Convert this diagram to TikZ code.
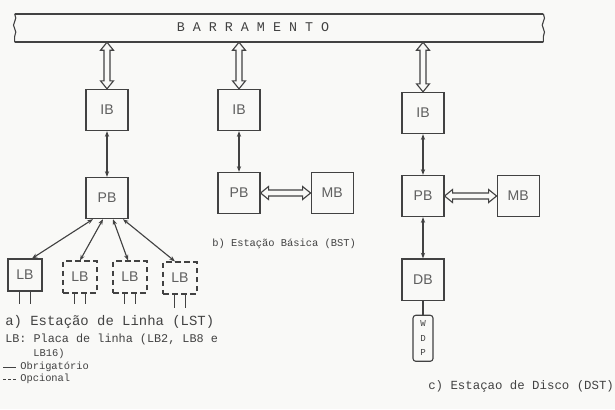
\documentclass[tikz,border=0pt]{standalone}
\usepackage{fontspec}
\usepackage{tikz}
\usetikzlibrary{positioning, arrows.meta, calc, decorations.pathmorphing}
\newfontfamily\tyfont{Liberation Mono}
\newfontfamily\bdfont{Liberation Sans}
\definecolor{ink}{rgb}{0.26, 0.26, 0.26}
\definecolor{paper}{rgb}{0.975, 0.975, 0.97}

% hollow double arrows (vertical: top -> bottom, horizontal: left -> right)
\newcommand{\vdbl}[2]{\draw[hollow] (#1) -- ++(6.5,8) -- ++(-3.5,0) -- ($(#2)+(3,-8)$) -- ++(3.5,0) -- (#2) -- ++(-6.5,-8) -- ++(3.5,0) -- ($(#1)+(-3,8)$) -- ++(-3.5,0) -- cycle;}
\newcommand{\hdbl}[2]{\draw[hollow] (#1) -- ++(8,-6.5) -- ++(0,3.5) -- ($(#2)+(-8,-3)$) -- ++(0,-3.5) -- (#2) -- ++(-8,6.5) -- ++(0,-3.5) -- ($(#1)+(8,3)$) -- ++(0,3.5) -- cycle;}

\begin{document}
\begin{tikzpicture}[
  x=0.025cm, y=-0.025cm,
  box/.style={draw=ink, line width=0.8pt, minimum width=1.05cm, minimum height=1.03cm, inner sep=0pt, text=ink!85, font=\bdfont\fontsize{10}{12}\selectfont},
  lbox/.style={box, minimum width=0.85cm, minimum height=0.8cm},
  opt/.style={lbox, dash pattern=on 4pt off 2.5pt},
  wdp/.style={draw=ink, line width=0.8pt, rounded corners=2pt, minimum width=0.5cm, minimum height=1.15cm, inner sep=0pt, align=center, text=ink, font=\tyfont\fontsize{6.5}{10.3}\selectfont},
  wire/.style={draw=ink, line width=0.8pt, {Stealth[length=4pt,width=3pt]}-{Stealth[length=4pt,width=3pt]}},
  leg/.style={draw=ink, line width=0.8pt},
  hollow/.style={draw=ink, line width=0.8pt, fill=paper},
  busline/.style={draw=ink, line width=1.2pt},
  typed/.style={text=ink, inner sep=0pt, anchor=west},
]
  \fill[paper] (0,0) rectangle (615,409);
  \useasboundingbox (0,0) rectangle (615,409);

  % bus
  \node[minimum width=13.2cm, minimum height=0.7cm, inner sep=0pt] (bus) at (279,28) {};
  \draw[busline] (bus.north west) -- (bus.north east);
  \draw[busline] (bus.south west) -- (bus.south east);
  \draw[leg, decorate, decoration={snake, amplitude=0.8pt, segment length=0.35cm}] (bus.north west) -- (bus.south west);
  \draw[leg, decorate, decoration={snake, amplitude=0.8pt, segment length=0.35cm}] (bus.north east) -- (bus.south east);
  \node[typed, anchor=center, font=\tyfont\fontsize{9.5}{11}\selectfont] (busname) at (253,27) {B A R R A M E N T O};

  % a) line station
  \node[box] (ibA) at (107,110) {IB};
  \node[box] (pbA) at (107,198) {PB};
  \node[lbox] (lbA) at (25,275) {LB};
  \node[opt] (lbB) at (80,277) {LB};
  \node[opt] (lbC) at (130,277) {LB};
  \node[opt] (lbD) at (180,278) {LB};

  % b) basic station
  \node[box] (ibB) at (239,110) {IB};
  \node[box] (pbB) at (239,193) {PB};
  \node[box, right=1.25cm of pbB] (mbB) {MB};

  % c) disk station
  \node[box] (ibC) at (423,113) {IB};
  \node[box] (pbC) at (423,196) {PB};
  \node[box, right=1.3cm of pbC] (mbC) {MB};
  \node[box, below=1.03cm of pbC] (dbC) {DB};
  \node[wdp, below=0.35cm of dbC] (wdp) {W\\D\\P};

  % bus taps
  \coordinate (tapA) at (bus.south -| ibA.north);
  \coordinate (tapB) at (bus.south -| ibB.north);
  \coordinate (tapC) at (bus.south -| ibC.north);
  \vdbl{tapA}{ibA.north}
  \vdbl{tapB}{ibB.north}
  \vdbl{tapC}{ibC.north}
  \hdbl{pbB.east}{mbB.west}
  \hdbl{pbC.east}{mbC.west}

  \draw[wire] (ibA) -- (pbA);
  \draw[wire] (ibB) -- (pbB);
  \draw[wire] (ibC) -- (pbC);
  \draw[wire] (pbC) -- (dbC);
  \draw[leg] (dbC) -- (wdp);
  \foreach \lb/\dx/\ex in {lbA/-14/7, lbB/-4/0, lbC/6/-2, lbD/16/-5}
    \draw[wire] ([xshift=\dx*0.025cm]pbA.south) -- ([xshift=\ex*0.025cm]\lb.north);
  \foreach \lb/\len in {lbA/12, lbB/10, lbC/10, lbD/13}
    \draw[leg] ([xshift=-0.13cm]\lb.south) -- ++(0,\len) ([xshift=0.13cm]\lb.south) -- ++(0,\len);

  % captions
  \node[typed, font=\tyfont\fontsize{9.9}{12}\selectfont] (capA) at (5,322) {a) Estação de Linha (LST)};
  \node[typed, font=\tyfont\fontsize{8.4}{10}\selectfont] (noteA) at (5,339) {LB: Placa de linha (LB2, LB8 e};
  \node[typed, font=\tyfont\fontsize{7.4}{9}\selectfont] (noteB) at (33,354) {LB16)};
  \node[typed, font=\tyfont\fontsize{7.4}{9}\selectfont] (legObr) at (20,367) {Obrigatório};
  \node[typed, font=\tyfont\fontsize{7.4}{9}\selectfont] (legOpc) at (20,379) {Opcional};
  \draw[leg, line width=0.6pt] ([xshift=-3pt]legObr.west) -- ++(-13,0);
  \draw[leg, line width=0.6pt, dash pattern=on 2pt off 1.5pt] ([xshift=-3pt]legOpc.west) -- ++(-13,0);
  \node[typed, font=\tyfont\fontsize{7.4}{9}\selectfont] (capB) at (212,244) {b) Estação Básica (BST)};
  \node[typed, font=\tyfont\fontsize{8.8}{11}\selectfont] (capC) at (428,386) {c) Estaçao de Disco (DST)};
\end{tikzpicture}
\end{document}
